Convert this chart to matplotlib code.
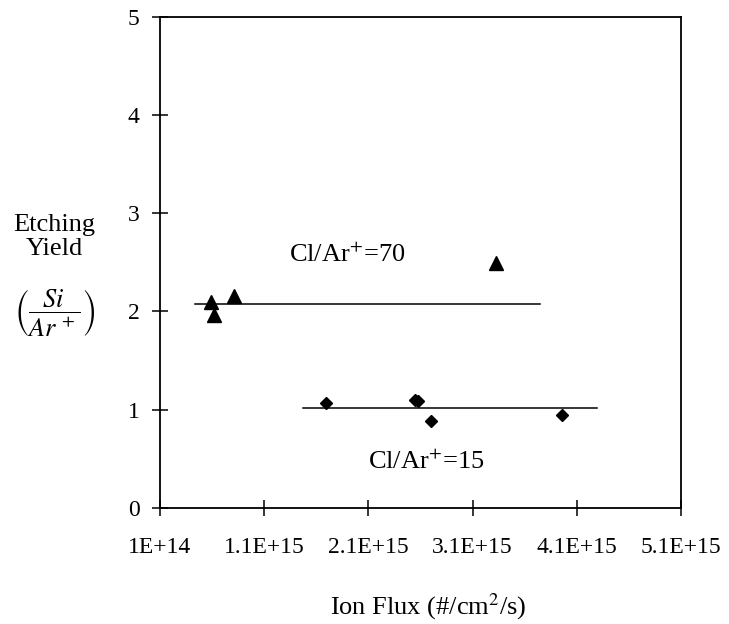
import matplotlib
matplotlib.use("Agg")
import matplotlib.pyplot as plt

plt.rcParams['font.family'] = ['Liberation Serif', 'DejaVu Serif']
plt.rcParams['mathtext.fontset'] = 'stix'

# Cl/Ar+ = 70 series (triangles)
flux_70 = [5.9e14, 6.2e14, 8.1e14, 3.33e15]
yield_70 = [2.10, 1.96, 2.16, 2.49]
fit_70_x = [4.4e14, 3.75e15]
fit_70_y = [2.08, 2.08]

# Cl/Ar+ = 15 series (diamonds)
flux_15 = [1.69e15, 2.55e15, 2.58e15, 2.70e15, 3.96e15]
yield_15 = [1.07, 1.10, 1.09, 0.88, 0.94]
fit_15_x = [1.475e15, 4.29e15]
fit_15_y = [1.02, 1.02]

xticks = [1e14, 1.1e15, 2.1e15, 3.1e15, 4.1e15, 5.1e15]
xtick_labels = ["1E+14", "1.1E+15", "2.1E+15", "3.1E+15", "4.1E+15", "5.1E+15"]
yticks = [0, 1, 2, 3, 4, 5]

fig = plt.figure(figsize=(7.29, 6.24), dpi=100)
ax = fig.add_axes([0.2195, 0.1864, 0.7145, 0.7864])

ax.plot(fit_70_x, fit_70_y, color='black', lw=1.1)
ax.plot(fit_15_x, fit_15_y, color='black', lw=1.1)
ax.plot(flux_70, yield_70, linestyle='none', marker='^', color='black', markersize=10)
ax.plot(flux_15, yield_15, linestyle='none', marker='D', color='black', markersize=6.3)

ax.text(1.9e15, 2.58, r'Cl/Ar$^{+}$=70', fontsize=19, ha='center', va='center')
ax.text(2.66e15, 0.47, r'Cl/Ar$^{+}$=15', fontsize=19, ha='center', va='center')

ax.set_xlim(1e14, 5.1e15)
ax.set_ylim(0, 5)
ax.set_xticks(xticks)
ax.set_xticklabels(xtick_labels)
ax.set_yticks(yticks)
ax.tick_params(axis='both', direction='inout', length=11.5, width=1.1, labelsize=17,
               top=False, right=False, color='black')
ax.tick_params(axis='x', pad=15)
ax.tick_params(axis='y', pad=9)
for s in ax.spines.values():
    s.set_linewidth(1.3)
    s.set_color('black')

fig.text(0.587, 0.003, r'Ion Flux (#/cm$^{2}$/s)', fontsize=19,
         ha='center', va='bottom')
fig.text(0.074, 0.62, 'Etching\nYield', fontsize=19, ha='center', va='center',
         linespacing=1.15)
fig.text(0.075, 0.50, r'$\left(\dfrac{Si}{Ar^{\,+}}\right)$', fontsize=19,
         ha='center', va='center')

fig.savefig('out.png', dpi=100)
